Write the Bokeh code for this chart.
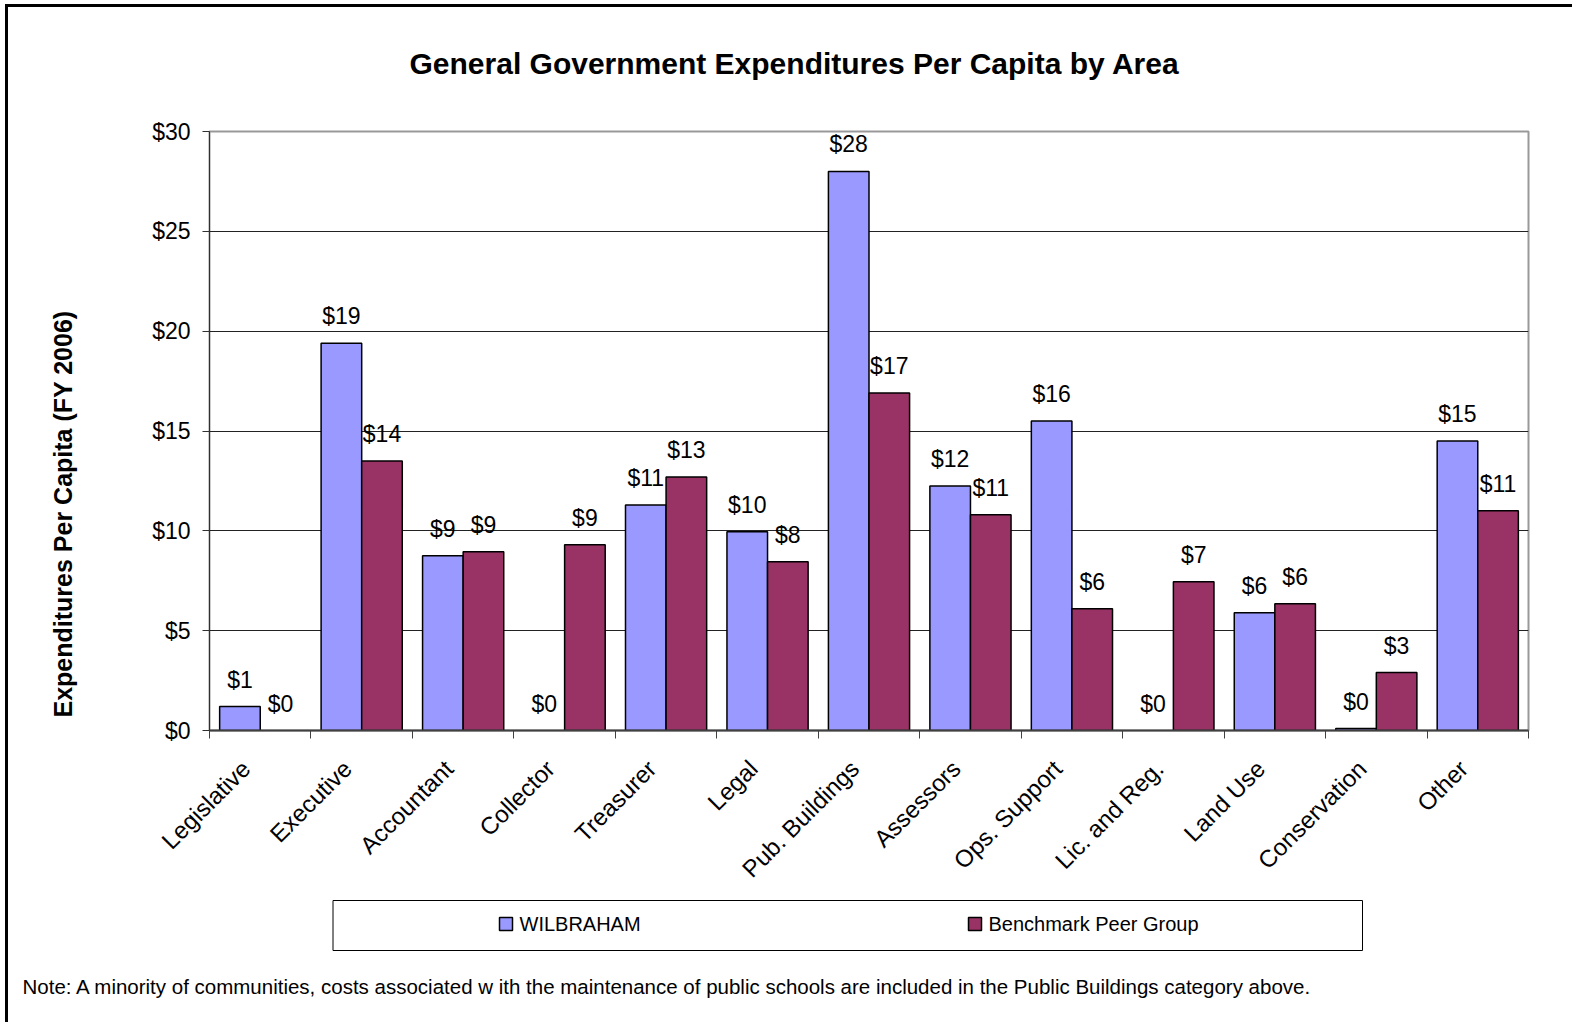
import math
from bokeh.plotting import figure
from bokeh.layouts import column
from bokeh.models import (ColumnDataSource, Range1d, LinearAxis, FixedTicker,
                          CustomJSTickFormatter, NumeralTickFormatter, Grid, Title,
                          Label, BoxAnnotation)
from bokeh.core.properties import value
from bokeh.embed import file_html
from bokeh.resources import INLINE

# ---------------- data ----------------
categories = ["Legislative", "Executive", "Accountant", "Collector", "Treasurer", "Legal",
              "Pub. Buildings", "Assessors", "Ops. Support", "Lic. and Reg.", "Land Use",
              "Conservation", "Other"]
wilbraham = [1.2, 19.4, 8.75, 0.0, 11.3, 9.95, 28.0, 12.25, 15.5, 0.0, 5.9, 0.1, 14.5]
benchmark = [0.0, 13.5, 8.95, 9.3, 12.7, 8.45, 16.9, 10.8, 6.1, 7.45, 6.35, 2.9, 11.0]
series_names = ["WILBRAHAM", "Benchmark Peer Group"]
y_ticks = [0, 5, 10, 15, 20, 25, 30]
title_text = "General Government Expenditures Per Capita by Area"
y_title = "Expenditures Per Capita (FY 2006)"
note_text = ("Note: A minority of communities, costs associated w ith the maintenance of "
             "public schools are included in the Public Buildings category above.")

FONT = "Liberation Sans"
C_W = "#9999FF"
C_B = "#993366"
series_colors = [C_W, C_B]

n = len(categories)
idx = list(range(n))


def fmt(v):
    return "$%d" % math.floor(v + 0.5)


src_w = ColumnDataSource(dict(
    x=[i + 0.3 for i in idx], top=wilbraham,
    label=[fmt(v) for v in wilbraham],
    la=[0.0 if v == 0 else 1.0 for v in wilbraham]))
src_b = ColumnDataSource(dict(
    x=[i + 0.7 for i in idx], top=benchmark,
    label=[fmt(v) for v in benchmark],
    la=[0.0 if v == 0 else 1.0 for v in benchmark]))

W = 1567
H1 = 888
H2 = 130
BL, BR = 201, 47

# ================= main chart =================
p = figure(width=W, height=H1,
           x_range=Range1d(0, n), y_range=Range1d(0, 30),
           x_axis_type=None, y_axis_type=None,
           output_backend="svg", toolbar_location=None,
           min_border_left=BL, min_border_right=BR,
           min_border_top=124, min_border_bottom=165)
p.title = None
p.background_fill_color = "white"
p.border_fill_color = "white"
p.outline_line_color = "#999999"
p.outline_line_width = 2

# title (a blank spacer keeps it at the right height above the plot area)
p.add_layout(Title(text=" ", standoff=49, text_font_size="1px"), "above")
p.add_layout(Title(text=title_text, align="left", offset=200, vertical_align="bottom",
                   standoff=0, text_font=FONT, text_font_size="30px",
                   text_font_style="bold", text_color="black"), "above")

# ---------------- axes ----------------
yticker = FixedTicker(ticks=y_ticks)
yaxis = LinearAxis(ticker=yticker, formatter=NumeralTickFormatter(format="$0"),
                   major_tick_out=7, major_tick_in=0,
                   minor_tick_out=0, minor_tick_in=0,
                   axis_line_color="#303030", axis_line_width=1,
                   major_tick_line_color="#303030",
                   major_label_standoff=12,
                   major_label_text_font=FONT,
                   major_label_text_font_size="23px",
                   major_label_text_color="black")
p.add_layout(yaxis, "left")
p.add_layout(Title(text=" ", standoff=70, text_font_size="1px"), "left")
p.add_layout(Title(text=y_title, align="left", offset=13, vertical_align="bottom",
                   standoff=0, text_font=FONT, text_font_size="25px",
                   text_font_style="bold", text_color="black"), "left")

xticker = FixedTicker(ticks=[i + 0.36 for i in idx], minor_ticks=list(range(n + 1)))
xaxis = LinearAxis(ticker=xticker,
                   formatter=CustomJSTickFormatter(args=dict(labels=categories),
                                                   code="return labels[Math.floor(tick)];"),
                   major_label_orientation=math.pi / 4,
                   major_tick_out=0, major_tick_in=0,
                   minor_tick_out=8, minor_tick_in=0,
                   minor_tick_line_color="#404040",
                   axis_line_color="#404040", axis_line_width=2,
                   major_label_standoff=26,
                   major_label_text_font=FONT,
                   major_label_text_font_size="24px",
                   major_label_text_color="black")
p.add_layout(xaxis, "below")

p.add_layout(Grid(dimension=1, ticker=yticker, grid_line_color="#222222",
                  grid_line_width=1))

# ---------------- bars ----------------
p.vbar(x="x", top="top", width=0.4, source=src_w, fill_color=C_W,
       line_color="black", line_width=1.5, line_alpha="la")
p.vbar(x="x", top="top", width=0.4, source=src_b, fill_color=C_B,
       line_color="black", line_width=1.5, line_alpha="la")

for src in (src_w, src_b):
    p.text(x="x", y="top", text="label", source=src, text_align="center",
           text_baseline="alphabetic", y_offset=-27,
           text_font=value(FONT), text_font_size=value("23px"), text_color="black")

# ================= legend + note strip =================
FB = 60  # height of the strip's drawing area (pixels)
p2 = figure(width=W, height=H2, x_range=Range1d(0, W - BL - BR), y_range=Range1d(0, FB),
            x_axis_type=None, y_axis_type=None,
            output_backend="svg", toolbar_location=None,
            min_border_left=BL, min_border_right=BR,
            min_border_top=0, min_border_bottom=H2 - FB)
p2.title = None
p2.outline_line_color = None
p2.background_fill_color = "white"
p2.border_fill_color = "white"

# legend frame
p2.add_layout(BoxAnnotation(left=123.5, right=1153, bottom=5, top=55,
                            left_units="screen", right_units="screen",
                            top_units="screen", bottom_units="screen",
                            fill_color=None, line_color="black", line_alpha=1.0,
                            line_width=1))
# legend entries
for lx, col, name in zip([290, 759], series_colors, series_names):
    p2.add_layout(BoxAnnotation(left=lx, right=lx + 13, bottom=25, top=38,
                                left_units="screen", right_units="screen",
                                top_units="screen", bottom_units="screen",
                                fill_color=col, fill_alpha=1.0,
                                line_color="black", line_alpha=1.0, line_width=1.5))
    p2.add_layout(Label(x=lx + 20, y=31.5, x_units="screen", y_units="screen",
                        text=name, text_align="left", text_baseline="middle",
                        text_font=FONT, text_font_size="20px", text_color="black"))

# footnote
p2.add_layout(Title(text=note_text, align="left", offset=-187, vertical_align="top",
                    standoff=38, text_font=FONT, text_font_size="20.5px",
                    text_font_style="normal", text_color="black"), "below")

layout = column(p, p2, spacing=0)
layout.margin = (7, 0, 0, 8)
layout.styles = {"box-shadow": "-3px -3px 0px 0px black"}

open("out.html", "w").write(file_html(layout, INLINE))
